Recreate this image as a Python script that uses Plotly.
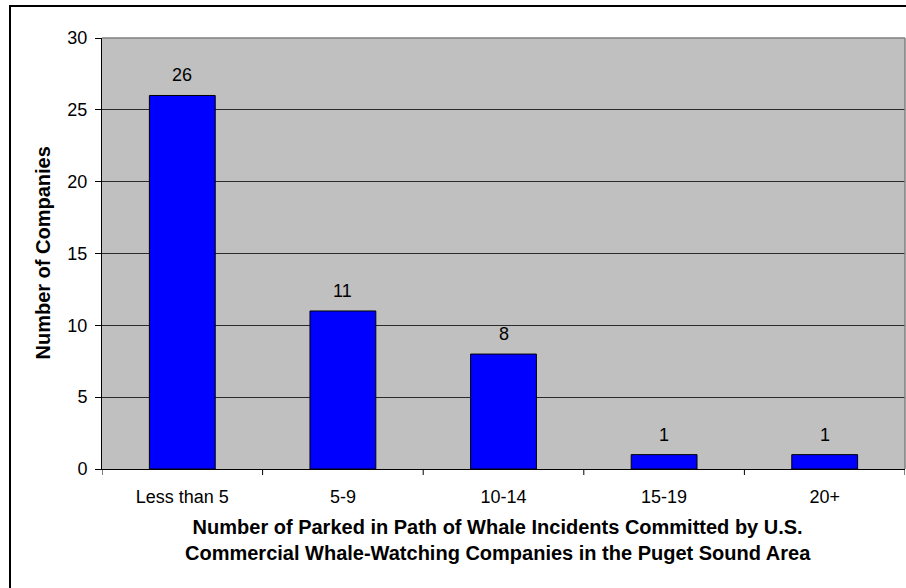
import plotly.graph_objects as go

categories = ["Less than 5", "5-9", "10-14", "15-19", "20+"]
companies = [26, 11, 8, 1, 1]
y_ticks = [0, 5, 10, 15, 20, 25, 30]

FONT = "Liberation Sans, Arial, sans-serif"

fig = go.Figure()
fig.add_trace(go.Bar(
    x=list(range(len(categories))),
    y=companies,
    width=0.41,
    marker=dict(color="#0000FF", line=dict(color="#000000", width=1)),
    hoverinfo="skip",
))

L, R, T, B = 102, 1, 38, 119
W, H = 906, 588
pw = W - L - R
ph = H - T - B

fig.update_layout(
    width=W, height=H,
    margin=dict(l=L, r=R, t=T, b=B, pad=0, autoexpand=False),
    paper_bgcolor="#FFFFFF",
    plot_bgcolor="#C0C0C0",
    showlegend=False,
    font=dict(family=FONT, size=18, color="#000000"),
    xaxis=dict(
        range=[-0.5, len(categories) - 0.5],
        tickmode="array",
        tickvals=list(range(len(categories))),
        ticktext=categories,
        ticks="",
        ticklabelstandoff=11,
        showgrid=False,
        zeroline=False,
        showline=True, linecolor="#000000", linewidth=1,
        tickfont=dict(family=FONT, size=18),
        automargin=False,
        fixedrange=True,
    ),
    yaxis=dict(
        range=[0, 30],
        tickmode="array",
        tickvals=y_ticks,
        ticks="outside", ticklen=6, tickcolor="#000000", tickwidth=1,
        ticklabelstandoff=4,
        showgrid=True, gridcolor="#2a2a2a", gridwidth=1,
        zeroline=False,
        showline=True, linecolor="#000000", linewidth=1,
        tickfont=dict(family=FONT, size=18),
        automargin=False,
        fixedrange=True,
    ),
)

# value labels above bars
for i, v in enumerate(companies):
    fig.add_annotation(x=i, y=v, text=str(v), showarrow=False,
                       xref="x", yref="y", yanchor="bottom", yshift=8,
                       font=dict(family=FONT, size=18, color="#000000"))

# axis titles
fig.add_annotation(xref="paper", yref="paper", x=(498 - L) / pw, y=(T + ph - 540) / ph,
                   text="<b>Number of Parked in Path of Whale Incidents Committed by U.S.<br>Commercial Whale-Watching Companies in the Puget Sound Area</b>",
                   showarrow=False, xanchor="center", yanchor="middle",
                   font=dict(family=FONT, size=20, color="#000000"))
fig.add_annotation(xref="paper", yref="paper", x=(42 - L) / pw, y=0.5,
                   text="<b>Number of Companies</b>", textangle=-90,
                   showarrow=False, xanchor="center", yanchor="middle",
                   font=dict(family=FONT, size=20, color="#000000"))

# x tick marks at category boundaries
for i in range(len(categories) + 1):
    fig.add_shape(type="line", xref="x", yref="paper",
                  x0=i - 0.5, x1=i - 0.5, y0=0, y1=-6 / ph,
                  line=dict(color="#000000", width=1))

# plot-area border (gray) on top and right
fig.add_shape(type="line", xref="paper", yref="paper", x0=0, x1=1, y0=1, y1=1,
              line=dict(color="#808080", width=1.5), layer="above")
fig.add_shape(type="line", xref="paper", yref="paper", x0=1, x1=1, y0=0, y1=1,
              line=dict(color="#808080", width=1.5), layer="above")

# outer chart border
fig.add_shape(type="rect", xref="paper", yref="paper",
              x0=(10 - L) / pw, x1=1.02,
              y0=-(H + 10 - T - ph) / ph, y1=(ph + T - 6) / ph,
              line=dict(color="#000000", width=2), fillcolor="rgba(0,0,0,0)")

fig.write_html("out.html",
               config={"displayModeBar": False, "staticPlot": True},
               post_script="document.body.style.margin='0';document.body.style.overflow='hidden';")
